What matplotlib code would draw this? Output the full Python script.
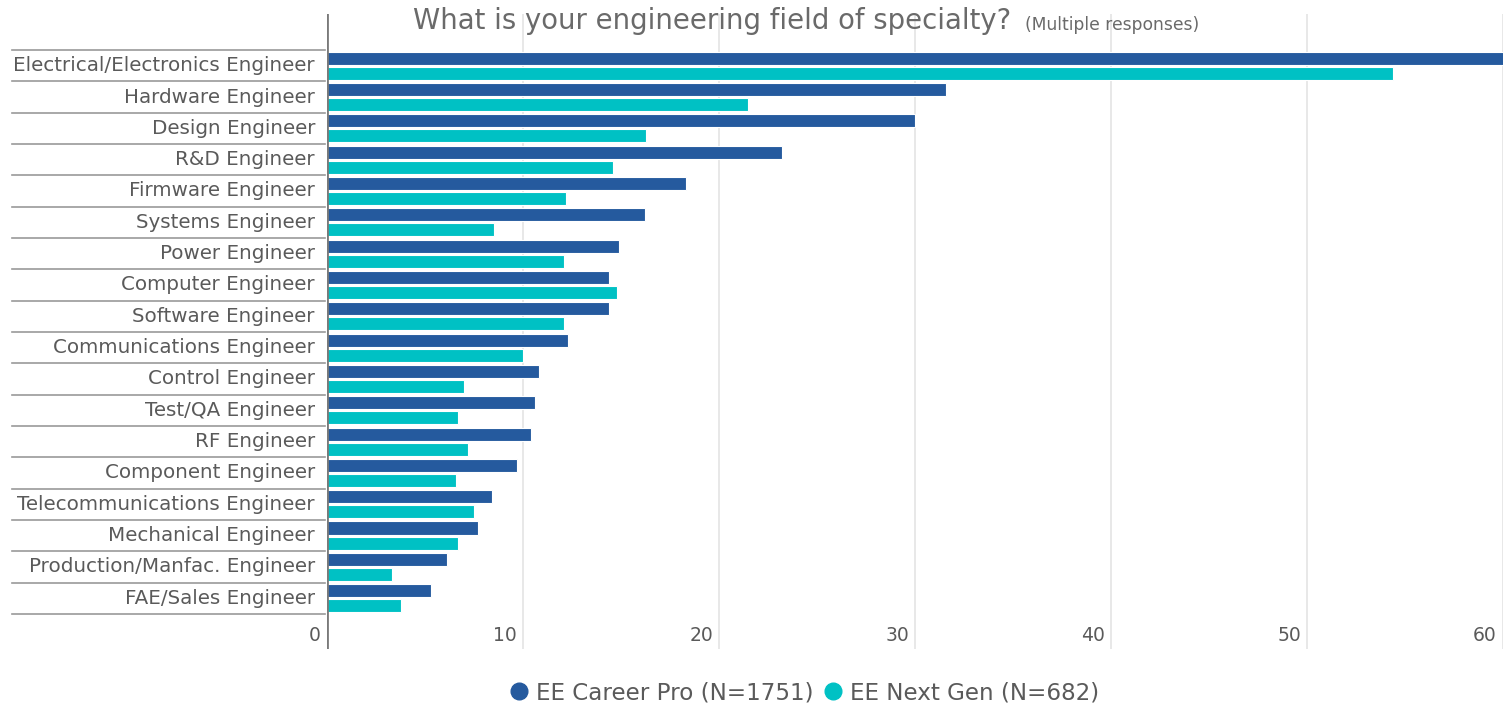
import matplotlib
matplotlib.use("Agg")
import matplotlib.pyplot as plt
import matplotlib.transforms as mtransforms
from matplotlib.lines import Line2D
import numpy as np

# ── data ─────────────────────────────────────
categories = [
    "Electrical/Electronics Engineer", "Hardware Engineer", "Design Engineer",
    "R&D Engineer", "Firmware Engineer", "Systems Engineer", "Power Engineer",
    "Computer Engineer", "Software Engineer", "Communications Engineer",
    "Control Engineer", "Test/QA Engineer", "RF Engineer", "Component Engineer",
    "Telecommunications Engineer", "Mechanical Engineer",
    "Production/Manfac. Engineer", "FAE/Sales Engineer",
]
career_pro = [61.0, 31.6, 30.0, 23.2, 18.3, 16.2, 14.9, 14.4, 14.4, 12.3,
              10.8, 10.6, 10.4, 9.7, 8.4, 7.7, 6.1, 5.3]
next_gen = [54.4, 21.5, 16.3, 14.6, 12.2, 8.5, 12.1, 14.8, 12.1, 10.0,
            7.0, 6.7, 7.2, 6.6, 7.5, 6.7, 3.3, 3.8]
series_names = ["EE Career Pro (N=1751)", "EE Next Gen (N=682)"]
x_ticks = [0, 10, 20, 30, 40, 50, 60]

BLUE = "#255a9e"
CYAN = "#00c1c4"
TXT = "#5a5a5a"
FONT = "DejaVu Sans"

# ── figure ───────────────────────────────────
fig = plt.figure(figsize=(15.03, 7.13), dpi=100)
ax = fig.add_axes([327 / 1503, 1 - 649 / 713, 1 - 327 / 1503, (649 - 14) / 713])

y = np.arange(len(categories))
ax.barh(y - 0.24, career_pro, height=0.42, color=BLUE, edgecolor="white",
        linewidth=0.8, zorder=3)
ax.barh(y + 0.24, next_gen, height=0.42, color=CYAN, edgecolor="white",
        linewidth=0.8, zorder=3)

ax.set_xlim(0, 60)
ax.set_ylim(17.5 + 1.12, -0.5 - 1.15)
for s in ax.spines.values():
    s.set_visible(False)
ax.set_xticks([])
ax.set_yticks([])

# gridlines + zero axis
for t in x_ticks[1:]:
    ax.axvline(t, color="#e4e4e4", lw=1.2, zorder=1)
ax.axvline(0, color="#7a7a7a", lw=2, zorder=4)

# tick labels sit inside the plot, left of each gridline
for t in x_ticks:
    ax.annotate(str(t), xy=(t, 0.022), xycoords=("data", "axes fraction"),
                xytext=(-6, 0), textcoords="offset pixels",
                ha="right", va="center", fontsize=13.5, color=TXT, family=FONT)

# category labels + separator lines
trans = mtransforms.blended_transform_factory(ax.transAxes, ax.transData)
for i, name in enumerate(categories):
    ax.text(-12 / 1176, i, name, transform=trans, ha="right", va="center",
            fontsize=14.3, color=TXT, family=FONT)
for b in np.arange(len(categories) + 1) - 0.5:
    ax.plot([-315 / 1176, -2 / 1176], [b, b], transform=trans, color="#9a9a9a",
            lw=1.2, clip_on=False)

# title
fig.text(413 / 1503, 1 - 21 / 713, "What is your engineering field of specialty?",
         ha="left", va="center", fontsize=19.8, color="#6a6a6a", family=FONT)
fig.text(1025 / 1503, 1 - 25 / 713, "(Multiple responses)",
         ha="left", va="center", fontsize=12.3, color="#6a6a6a", family=FONT)

# legend
handles = [Line2D([], [], marker="o", ls="", color=BLUE, markersize=12),
           Line2D([], [], marker="o", ls="", color=CYAN, markersize=12)]
fig.legend(handles, series_names, loc="center", bbox_to_anchor=(0.5353, 0.028),
           ncol=2, frameon=False, handlelength=0.8, handletextpad=0.35,
           columnspacing=0.45, borderpad=0, borderaxespad=0,
           prop={"family": FONT, "size": 16.6}, labelcolor=TXT)

fig.savefig("out.png", dpi=100)
